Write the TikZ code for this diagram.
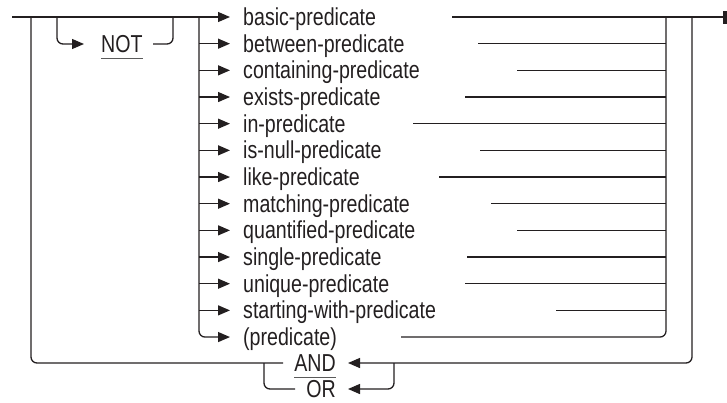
\documentclass[tikz,border=0pt]{standalone}
\usepackage{fontspec}
\setmainfont[FakeStretch=0.80]{Liberation Sans}
\usetikzlibrary{arrows.meta}
\definecolor{ink}{RGB}{35,31,32}
\definecolor{uline}{RGB}{90,90,90}
\begin{document}
\begin{tikzpicture}[x=1pt,y=-1pt,
  rail/.style={draw=ink, line width=1.3pt, rounded corners=6pt},
  arr/.style={rail, -{Triangle[length=12pt,width=10pt]}},
  lbl/.style={inner sep=0pt, font=\fontsize{24.5}{29}\selectfont, text=ink},
  ul/.style={draw=uline, line width=1.2pt}]
\useasboundingbox (0,0) rectangle (727,402);
% key coordinates
\coordinate (start) at (12,17);
\coordinate (lloop) at (31,17);
\coordinate (notin) at (57,17);
\coordinate (notout) at (173,17);
\coordinate (fork) at (199,17);
\coordinate (join) at (666,17);
\coordinate (oloop) at (692,17);
\coordinate (endp) at (723,17);
% main line and left loop
\draw[rail] (start) -- (fork);
\draw[rail] (lloop) |- (283,363) coordinate (andl);
% NOT branch
\draw[arr] (notin) |- (84,44) coordinate (nottip);
\node[lbl, anchor=base west] (notw) at (101,52) {NOT};
\draw[ul] ([yshift=-6.5pt]notw.base west) -- ([yshift=-6.5pt]notw.base east);
\draw[rail] (153,44) coordinate (notr) -| (notout);
% predicate branches
\foreach \t/\e [count=\i from 0] in {basic-predicate/452,between-predicate/478,containing-predicate/517,exists-predicate/465,in-predicate/413,is-null-predicate/480,like-predicate/439,matching-predicate/491,quantified-predicate/517,single-predicate/467,unique-predicate/465,starting-with-predicate/556,{(predicate)}/401}{
  \pgfmathsetmacro{\yy}{17+26.67*\i}
  \coordinate (a\i) at (230,\yy);
  \coordinate (b\i) at (\e,\yy);
  \node[lbl, anchor=base west] (p\i) at (243,\yy+8.5) {\t};
}
\foreach \i in {0,...,11}{
  \draw[arr] (fork |- a\i) -- (a\i);
}
\draw[arr] (fork) |- (a12);
\foreach \i in {1,...,11}{
  \draw[rail] (b\i) -- (join |- b\i);
}
\draw[rail] (b12) -| (join);
\draw[rail] (b0) -- (endp);
\fill[ink] (722.5,10.5) rectangle (726.5,23.5);
% repeat loop with AND / OR
\draw[arr] (oloop) |- (348,363) coordinate (andtip);
\draw[arr] (394,363) coordinate (orr) |- (348,389) coordinate (ortip);
\draw[rail] (264,363) coordinate (orl) |- (295,389);
\node[lbl, anchor=base east] (andw) at (336,371) {AND};
\draw[ul] ([yshift=-6.5pt]andw.base west) -- ([yshift=-6.5pt]andw.base east);
\node[lbl, anchor=base east] (orw) at (336,397) {OR};
\end{tikzpicture}
\end{document}
